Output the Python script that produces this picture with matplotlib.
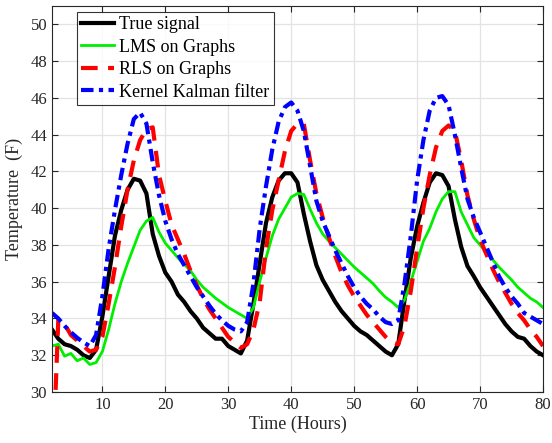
import numpy as np
import matplotlib
matplotlib.use("Agg")
import matplotlib.pyplot as plt

# ---------------------------------------------------------------------------
# data (hourly)
# ---------------------------------------------------------------------------
hours = np.arange(2, 81)

true_signal = [
    33.4, 32.9, 32.6, 32.5, 32.3, 32.0, 31.85, 32.3, 34.1, 36.3,
    38.5, 39.9, 41.0, 41.6, 41.5, 40.8, 38.6, 37.4, 36.5, 36.0,
    35.3, 34.9, 34.4, 34.0, 33.5, 33.2, 32.9, 32.9, 32.5, 32.3,
    32.1, 32.8, 34.8, 37.0, 39.2, 40.6, 41.5, 41.9, 41.9, 41.4,
    39.7, 38.2, 36.9, 36.1, 35.5, 34.9, 34.4, 34.0, 33.6, 33.3,
    33.1, 32.8, 32.5, 32.2, 32.0, 32.6, 35.0, 37.3, 39.0, 40.3,
    41.4, 41.9, 41.8, 41.2, 39.4, 37.9, 36.85, 36.3, 35.7, 35.2,
    34.7, 34.2, 33.7, 33.3, 33.0, 32.9, 32.5, 32.2, 32.0,
]

lms = [
    32.5, 32.6, 31.95, 32.1, 31.7, 31.85, 31.5, 31.6, 32.2, 33.4,
    34.8, 36.0, 37.0, 37.9, 38.8, 39.3, 39.5, 38.7, 38.1, 37.7,
    37.3, 36.95, 36.6, 36.1, 35.7, 35.4, 35.1, 34.85, 34.6, 34.4,
    34.2, 34.0, 34.6, 36.0, 37.3, 38.5, 39.4, 40.0, 40.6, 40.8,
    40.75, 39.95, 39.2, 38.6, 38.2, 37.85, 37.5, 37.15, 36.8, 36.5,
    36.2, 35.9, 35.5, 35.15, 34.9, 34.6, 35.0, 36.0, 37.1, 38.2,
    38.9, 39.8, 40.5, 40.9, 40.9, 39.8, 39.1, 38.4, 38.0, 37.6,
    37.2, 36.8, 36.45, 36.1, 35.7, 35.4, 35.1, 34.9, 34.6,
]

rls = [
    25.0, 33.9, 33.7, 33.1, 32.8, 32.5, 32.2, 32.3, 33.0, 34.8,
    36.8, 39.0, 41.0, 42.6, 43.7, 44.3, 44.4, 41.8, 40.4, 39.1,
    38.3, 37.5, 36.6, 35.8, 35.1, 34.5, 34.0, 33.5, 33.0, 32.7,
    32.4, 32.6, 33.4, 34.9, 37.8, 39.9, 41.5, 43.1, 44.2, 44.6,
    44.6, 42.6, 40.8, 39.5, 38.4, 37.4, 36.5, 35.8, 35.2, 34.7,
    34.2, 33.8, 33.4, 33.0, 32.7, 32.6, 33.6, 35.5, 37.8, 40.0,
    41.8, 43.3, 44.2, 44.5, 44.2, 42.6, 40.7, 39.4, 38.3, 37.5,
    36.7, 36.0, 35.4, 34.8, 34.3, 33.9, 33.4, 33.0, 32.5,
]

kalman = [
    34.3, 34.0, 33.6, 33.25, 32.95, 32.7, 32.5, 33.1, 35.2, 37.8,
    39.9, 41.8, 43.5, 44.85, 45.2, 44.6, 42.5, 40.7, 39.3, 38.3,
    37.5, 36.9, 36.3, 35.7, 35.2, 34.7, 34.25, 33.9, 33.6, 33.4,
    33.3, 33.8, 35.9, 38.9, 41.2, 43.2, 44.7, 45.5, 45.75, 45.3,
    44.2, 42.3, 40.4, 39.3, 38.5, 37.7, 37.0, 36.3, 35.7, 35.2,
    34.8, 34.5, 34.1, 33.8, 33.7, 33.9, 35.9, 38.5, 41.5, 43.7,
    45.3, 46.0, 46.1, 45.6, 44.0, 42.2, 40.5, 39.5, 38.7, 37.9,
    37.1, 36.3, 35.7, 35.2, 34.8, 34.3, 34.1, 33.9, 33.7,
]

# ---------------------------------------------------------------------------
# style
# ---------------------------------------------------------------------------
plt.rcParams["font.family"] = ["Liberation Serif", "DejaVu Serif"]
AX_COLOR = "#262626"

fig = plt.figure(figsize=(5.52, 4.43), dpi=100)
ax = fig.add_axes([0.0942, 0.1151, 0.8895, 0.8714])

ax.plot(hours, true_signal, color="black", lw=3.0, label="True signal")
ax.plot(hours, lms, color="#00ee00", lw=2.0, label="LMS on Graphs")
ax.plot(hours, rls, color="red", lw=3.0, ls=(0, (4, 2.5)), label="RLS on Graphs")
ax.plot(hours, kalman, color="blue", lw=3.0, ls=(0, (3, 1.3, 1, 1.3)),
        label="Kernel Kalman filter")

ax.set_xlim(2, 80)
ax.set_ylim(30, 51)
ax.set_xticks(np.arange(10, 81, 10))
ax.set_yticks(np.arange(30, 51, 2))
ax.grid(True, color="#e3e3e3", lw=0.9)
ax.set_axisbelow(True)

ax.tick_params(direction="in", top=True, right=True, labelsize=12,
               colors=AX_COLOR, length=4, width=0.8)
for sp in ax.spines.values():
    sp.set_color(AX_COLOR)
    sp.set_linewidth(0.8)

ax.set_xlabel("Time (Hours)", fontsize=13, color=AX_COLOR, labelpad=2)
ax.set_ylabel("Temperature  (F)", fontsize=13, color=AX_COLOR, labelpad=5)

leg = ax.legend(loc="upper left", bbox_to_anchor=(0.05, 0.985), fontsize=13,
                frameon=True, fancybox=False, edgecolor="black",
                borderpad=0.25, labelspacing=0.3, handlelength=1.8,
                handletextpad=0.3, borderaxespad=0.0)
leg.get_frame().set_linewidth(0.8)

fig.savefig("out.png", dpi=100)
